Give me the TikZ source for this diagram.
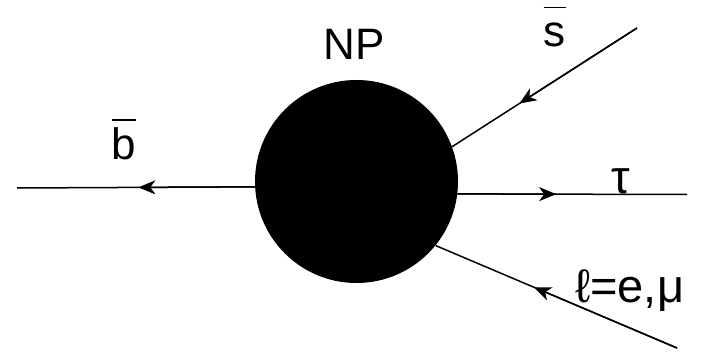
\documentclass[tikz,border=0pt]{standalone}
\usepackage{fontspec}
\setmainfont{Liberation Sans}
\usetikzlibrary{arrows.meta,calc}
\newcommand\barred[2]{\vbox{\hrule height 1.8pt\kern#1\hbox{#2}}}
\begin{document}
\begin{tikzpicture}[x=1pt,y=1pt,
  lbl/.style={font=\fontsize{44}{50}\selectfont, inner sep=0pt},
  biglbl/.style={font=\fontsize{47}{52}\selectfont, inner sep=0pt},
  fline/.style={line width=1.5pt, black},
  tipped/.style={fline, -{Stealth[length=17pt,width=14pt,inset=5pt]}}]
\useasboundingbox (0,0) rectangle (703,351);
\node[circle, fill=black, minimum size=203pt, inner sep=0pt] (np) at (356.5,169.5) {};
% end points
\coordinate (bEnd) at (17,163);
\coordinate (tEnd) at (687,156.5);
\coordinate (sEnd) at (637,323);
\coordinate (lEnd) at (677,3);
% border points
\coordinate (bIn) at (np.183.7);
\coordinate (tIn) at (np.-7.4);
\coordinate (sIn) at (np.20.2);
\coordinate (lIn) at (np.-39.6);
% arrow tips
\coordinate (bTip) at ($(bIn)!0.49!(bEnd)$);
\coordinate (tTip) at ($(tIn)!0.43!(tEnd)$);
\coordinate (sTip) at ($(sEnd)!0.636!(sIn)$);
\coordinate (lTip) at ($(lEnd)!0.592!(lIn)$);
% lines
\draw[fline] (bIn) -- (bEnd);
\draw[tipped] (bIn) -- (bTip);
\draw[fline] (tIn) -- (tEnd);
\draw[tipped] (tIn) -- (tTip);
\draw[fline] (sEnd) -- (sIn);
\draw[tipped] (sEnd) -- (sTip);
\draw[fline] (lEnd) -- (lIn);
\draw[tipped] (lEnd) -- (lTip);
% labels
\node[lbl, anchor=base] (lblNP) at (354,291) {NP};
\node[lbl, anchor=base] (lblS) at (554.5,304) {\barred{15pt}{s}};
\node[lbl, anchor=base] (lblB) at (124,191) {\barred{7pt}{b}};
\node[biglbl] (lblTau) at (621,170) {τ};
\node[biglbl, anchor=base west] (lblL) at (575,49) {ℓ=e,μ};
\end{tikzpicture}
\end{document}
